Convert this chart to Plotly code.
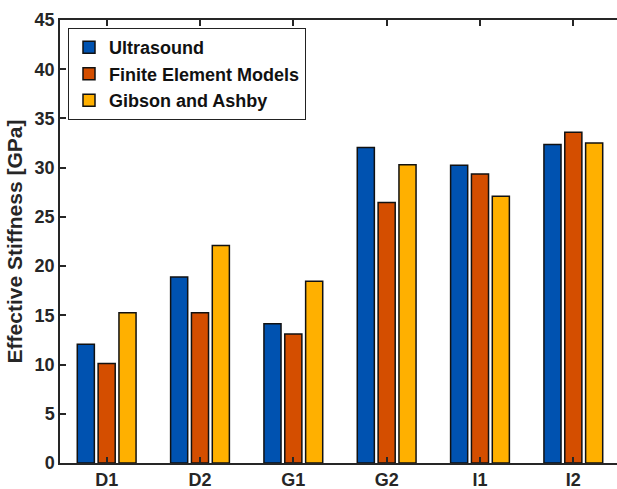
import plotly.graph_objects as go

categories = ["D1", "D2", "G1", "G2", "I1", "I2"]
ultrasound = [12.05, 18.9, 14.15, 32.05, 30.25, 32.35]
fem = [10.1, 15.25, 13.1, 26.45, 29.35, 33.6]
gibson_ashby = [15.25, 22.1, 18.45, 30.3, 27.1, 32.5]
series_names = ["Ultrasound", "Finite Element Models", "Gibson and Ashby"]
colors = ["#0052B0", "#D44E00", "#FFB000"]
y_ticks = [0, 5, 10, 15, 20, 25, 30, 35, 40, 45]

fig = go.Figure()
for name, vals, col in zip(series_names, [ultrasound, fem, gibson_ashby], colors):
    fig.add_trace(go.Bar(
        x=list(range(len(categories))), y=vals, name=name,
        marker=dict(color=col, line=dict(color="#111111", width=1.5)),
    ))

font_family = "Liberation Sans, Arial, sans-serif"
axis_col = "#262626"
fig.update_layout(
    width=617, height=489,
    margin=dict(l=60, r=0, t=20, b=26, autoexpand=False),
    paper_bgcolor="white", plot_bgcolor="white",
    barmode="group", bargap=0.33, bargroupgap=0.18,
    font=dict(family=font_family, size=18, color=axis_col),
    showlegend=True,
    legend=dict(
        x=0.014, y=0.982, xanchor="left", yanchor="top",
        bgcolor="white", bordercolor="#222222", borderwidth=1.2,
        font=dict(family=font_family, size=18, color="#111111", weight="bold"),
        tracegroupgap=0, itemwidth=30,
    ),
    xaxis=dict(
        tickmode="array", tickvals=list(range(len(categories))), ticktext=categories,
        range=[-0.5, 5.468], ticks="inside", ticklen=6, tickwidth=1.5, tickcolor=axis_col,
        showline=True, linecolor=axis_col, linewidth=1.5, mirror="ticks",
        showgrid=False, zeroline=False, automargin=False,
        tickfont=dict(family=font_family, size=18, weight="bold", color=axis_col),
    ),
    yaxis=dict(
        range=[0, 45], tickmode="array", tickvals=y_ticks,
        ticks="inside", ticklen=6, tickwidth=1.5, tickcolor=axis_col,
        showline=True, linecolor=axis_col, linewidth=1.5,
        showgrid=False, zeroline=False, automargin=False,
        tickfont=dict(family=font_family, size=18, weight="bold", color=axis_col),
        title=dict(text="Effective Stiffness [GPa]", standoff=6,
                   font=dict(family=font_family, size=21, weight="bold", color=axis_col)),
    ),
    yaxis2=dict(
        overlaying="y", side="right", range=[0, 45], tickmode="array", tickvals=y_ticks,
        ticks="inside", ticklen=6, tickwidth=1.5, tickcolor=axis_col,
        showticklabels=False, showline=False, showgrid=False, zeroline=False,
    ),
)
fig.write_html(
    "out.html",
    config={"displayModeBar": False},
    post_script="document.body.style.margin='0';document.body.style.overflow='hidden';",
)
